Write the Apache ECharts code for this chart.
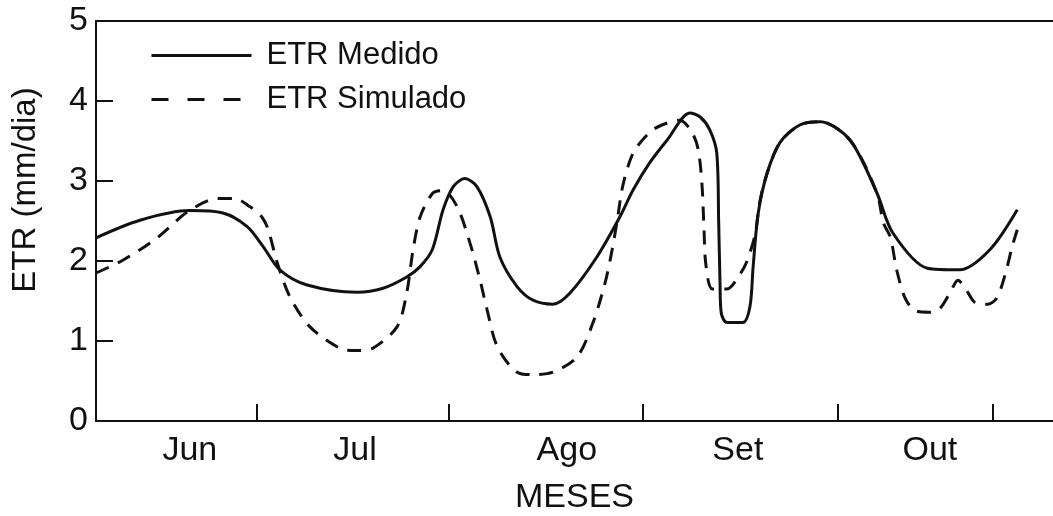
<!DOCTYPE html>
<html>
<head>
<meta charset="utf-8">
<script src="https://cdn.jsdelivr.net/npm/echarts@6/dist/echarts.min.js"></script>
<style>
  html, body { margin: 0; padding: 0; background: #fff; }
  #main { width: 1053px; height: 516px; }
</style>
</head>
<body>
<div id="main"></div>
<script>
// x in days from start of plot, y in mm/dia
var medidoX = [0, 6.9, 14.7, 19.9, 23.7, 26.2, 28.8, 33.1, 40.9, 45.0, 48.7, 50.8, 52.7, 54.4, 56.0, 57.8, 59.7, 61.8, 63.3, 66.0, 68.5, 71.6, 74.3, 78.5, 82.1, 84.2, 86.8, 89.5, 93.1, 94.7, 96.2, 97.3, 97.6, 97.8, 98.0, 98.9, 101.4, 102.5, 103.0, 103.8, 105.2, 107.2, 110.3, 113.5, 118.2, 122.4, 124.9, 130.3, 135.4, 140.1, 144.4];
var medidoY = [2.29, 2.51, 2.63, 2.60, 2.43, 2.18, 1.89, 1.70, 1.61, 1.66, 1.80, 1.93, 2.14, 2.64, 2.93, 3.03, 2.93, 2.55, 2.05, 1.68, 1.51, 1.46, 1.60, 2.05, 2.55, 2.89, 3.23, 3.51, 3.85, 3.80, 3.64, 3.35, 2.48, 1.76, 1.35, 1.23, 1.23, 1.43, 1.93, 2.60, 3.10, 3.48, 3.70, 3.74, 3.51, 2.85, 2.35, 1.91, 1.89, 2.14, 2.64];

var simuladoX = [0, 4.2, 9.6, 14.3, 19.0, 21.8, 24.1, 26.0, 27.0, 28.4, 30.4, 33.5, 38.2, 40.9, 43.4, 47.2, 48.7, 49.7, 50.8, 52.8, 54.4, 56.6, 58.6, 60.2, 61.3, 62.9, 66.0, 68.5, 71.6, 75.4, 77.9, 79.8, 80.9, 81.7, 82.6, 84.2, 86.8, 88.7, 91.5, 93.4, 94.4, 95.0, 95.3, 95.6, 96.6, 98.9, 100.9, 102.0, 103.3, 104.1, 105.2, 107.2, 110.3, 113.5, 118.2, 122.4, 123.4, 124.5, 125.5, 126.8, 128.4, 130.7, 132.3, 133.9, 135.1, 136.4, 137.8, 139.8, 141.2, 142.5, 143.6, 144.4];
var simuladoY = [1.85, 2.01, 2.29, 2.61, 2.78, 2.78, 2.68, 2.55, 2.39, 1.98, 1.55, 1.18, 0.91, 0.88, 0.91, 1.18, 1.60, 2.14, 2.55, 2.85, 2.88, 2.68, 2.23, 1.76, 1.39, 0.93, 0.61, 0.58, 0.61, 0.80, 1.23, 1.73, 2.14, 2.51, 2.95, 3.35, 3.61, 3.70, 3.76, 3.61, 3.39, 2.93, 2.39, 1.95, 1.65, 1.65, 1.83, 1.99, 2.33, 2.76, 3.10, 3.48, 3.70, 3.74, 3.51, 2.85, 2.48, 2.30, 1.89, 1.54, 1.38, 1.36, 1.41, 1.61, 1.76, 1.64, 1.48, 1.46, 1.54, 1.83, 2.18, 2.39];

var monthNames = ['Jun', 'Jul', 'Ago', 'Set', 'Out'];
var monthLabelPos = [14.7, 40.6, 73.8, 100.6, 130.7];
var monthTickPos = [25.2, 55.3, 85.7, 116.3, 140.6];

function pairs(xs, ys) {
    var out = [];
    for (var i = 0; i < xs.length; i++) {
        out.push([xs[i], ys[i]]);
    }
    return out;
}

var font = '"Liberation Sans", Arial, sans-serif';
var ink = '#111';

var chart = echarts.init(document.getElementById('main'));

var option = {
    animation: false,
    backgroundColor: '#fff',
    textStyle: { fontFamily: font, color: ink },
    grid: { left: 96, right: 0, top: 21, bottom: 95, outerBoundsMode: 'none', containLabel: false },
    legend: {
        orient: 'vertical',
        left: 145,
        top: 35,
        itemWidth: 100,
        itemHeight: 18,
        itemGap: 13,
        itemStyle: { opacity: 0 },
        textStyle: { fontFamily: font, fontSize: 31, color: ink, padding: [0, 0, 0, 10] },
        data: [
            { name: 'ETR Medido', lineStyle: { width: 3, type: 'solid' } },
            { name: 'ETR Simulado', lineStyle: { width: 3, type: [17, 19] } }
        ]
    },
    xAxis: [
        {
            type: 'value',
            min: 0,
            max: 150,
            name: 'MESES',
            nameLocation: 'middle',
            nameGap: 60,
            nameTextStyle: { fontFamily: font, fontSize: 34, color: ink },
            splitLine: { show: false },
            axisLine: { lineStyle: { color: ink, width: 2 } },
            axisTick: {
                inside: true,
                length: 17,
                lineStyle: { color: ink, width: 2 },
                customValues: monthTickPos
            },
            axisLabel: {
                fontFamily: font,
                fontSize: 34,
                color: ink,
                margin: 13,
                customValues: monthLabelPos,
                formatter: function (v) {
                    for (var i = 0; i < monthLabelPos.length; i++) {
                        if (Math.abs(monthLabelPos[i] - v) < 0.01) return monthNames[i];
                    }
                    return '';
                }
            }
        },
        {
            // top frame line only
            type: 'value',
            position: 'top',
            min: 0,
            max: 150,
            splitLine: { show: false },
            axisLine: { show: true, lineStyle: { color: ink, width: 2 } },
            axisTick: { show: false },
            axisLabel: { show: false }
        }
    ],
    yAxis: {
        type: 'value',
        min: 0,
        max: 5,
        interval: 1,
        splitLine: { show: false },
        axisLine: { show: true, lineStyle: { color: ink, width: 2 } },
        axisTick: { inside: true, length: 17, lineStyle: { color: ink, width: 2 } },
        axisLabel: { fontFamily: font, fontSize: 34, color: ink, margin: 8 }
    },
    graphic: [
        {
            type: 'text',
            x: 26,
            y: 190,
            rotation: Math.PI / 2,
            style: {
                text: 'ETR (mm/dia)',
                font: '33px ' + font,
                fill: ink,
                align: 'center',
                verticalAlign: 'middle'
            }
        }
    ],
    series: [
        {
            name: 'ETR Medido',
            type: 'line',
            data: pairs(medidoX, medidoY),
            smooth: 0.3,
            symbol: 'none',
            lineStyle: { color: ink, width: 3, type: 'solid' },
            itemStyle: { color: ink }
        },
        {
            name: 'ETR Simulado',
            type: 'line',
            data: pairs(simuladoX, simuladoY),
            smooth: 0.3,
            symbol: 'none',
            lineStyle: { color: ink, width: 3, type: [14, 10] },
            itemStyle: { color: ink }
        }
    ]
};

chart.setOption(option);
</script>
</body>
</html>
